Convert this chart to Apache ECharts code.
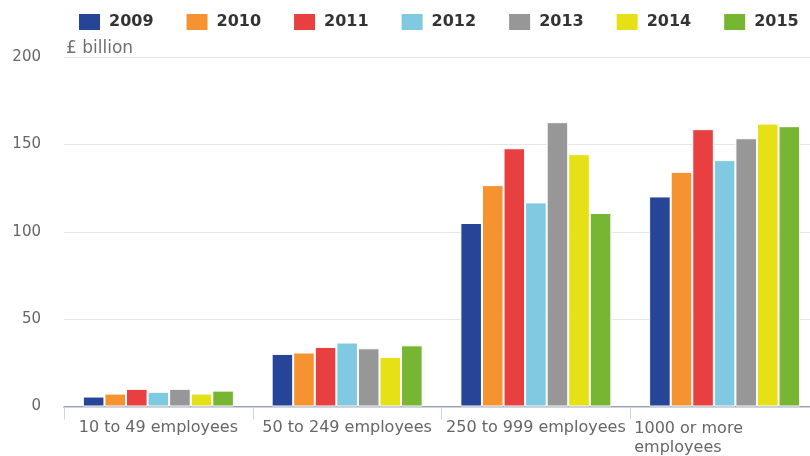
<!DOCTYPE html>
<html>
<head>
<meta charset="utf-8">
<script src="https://cdn.jsdelivr.net/npm/echarts@6/dist/echarts.min.js"></script>
<style>
  html, body { margin: 0; padding: 0; background: #fff; overflow: hidden; }
  /* plot area runs a little past the right edge of the window, as in the original */
  #chart { width: 819px; height: 456px; }
</style>
</head>
<body>
<div id="chart"></div>
<script>
// categories and yearly values (£ billion)
const categories = ['10 to 49 employees', '50 to 249 employees', '250 to 999 employees', '1000 or more employees']
const years = ['2009', '2010', '2011', '2012', '2013', '2014', '2015']
const values2009 = [5.7, 30.1, 105.0, 120.2]
const values2010 = [7.4, 30.9, 126.7, 134.3]
const values2011 = [10.1, 34.1, 147.8, 158.7]
const values2012 = [8.4, 36.6, 116.8, 141.0]
const values2013 = [10.1, 33.3, 162.7, 153.5]
const values2014 = [7.4, 28.4, 144.4, 161.9]
const values2015 = [9.1, 35.0, 110.7, 160.4]
const yTicks = [0, 50, 100, 150, 200]

const colors = ['#274596', '#f59331', '#e84040', '#7fc9e1', '#979797', '#e6e017', '#76b632']
const allValues = [values2009, values2010, values2011, values2012, values2013, values2014, values2015]

const myChart = echarts.init(document.getElementById('chart'))

const series = years.map((year, i) => ({
  name: year,
  type: 'bar',
  xAxisIndex: 0,
  barGap: '0%',
  barCategoryGap: '20%',
  itemStyle: {
    color: colors[i],
    borderColor: '#fff',
    borderWidth: 1
  },
  data: allValues[i]
}))

myChart.setOption({
  animation: false,
  textStyle: { fontFamily: 'DejaVu Sans' },
  legend: {
    top: 12,
    left: 77,
    padding: 0,
    itemWidth: 23,
    itemHeight: 18,
    itemGap: 31,
    icon: 'path://M0,0L23,0L23,18L0,18Z',
    textStyle: {
      fontSize: 16,
      fontWeight: 'bold',
      color: '#333',
      padding: [0, 0, 0, 3]
    },
    data: years
  },
  grid: {
    left: 64,
    right: 0,
    top: 57,
    bottom: 49
  },
  xAxis: [
    {
      // grey zero line, drawn under the bars
      type: 'category',
      data: categories,
      axisLine: { lineStyle: { color: '#888', width: 1.5 } },
      axisTick: { show: false },
      axisLabel: { show: false }
    },
    {
      type: 'category',
      data: categories,
      position: 'bottom',
      offset: 1,
      axisLine: { lineStyle: { color: '#ccd6eb', width: 1 } },
      axisTick: { show: true, length: 12, lineStyle: { color: '#ccd6eb' } },
      axisLabel: {
        interval: 0,
        margin: 12,
        fontSize: 16,
        color: '#666',
        formatter: (value, idx) => {
          if (idx === 3) {
            return '{l|1000 or more}\n{l|employees}'
          }
          return value
        },
        rich: {
          l: { fontSize: 16, color: '#666', align: 'left', padding: [0, 72, 0, 0], lineHeight: 19 }
        }
      }
    }
  ],
  yAxis: {
    type: 'value',
    min: yTicks[0],
    max: yTicks[yTicks.length - 1],
    interval: 50,
    name: '£ billion',
    nameLocation: 'end',
    nameGap: 0,
    nameTextStyle: { align: 'left', fontSize: 17, color: '#707070', padding: [0, 0, 0, 2] },
    axisLine: { show: false },
    axisTick: { show: false },
    axisLabel: { fontSize: 15, color: '#666', margin: 23 },
    splitLine: { lineStyle: { color: '#e6e6e6', width: 1 } }
  },
  series: series
})
</script>
</body>
</html>
